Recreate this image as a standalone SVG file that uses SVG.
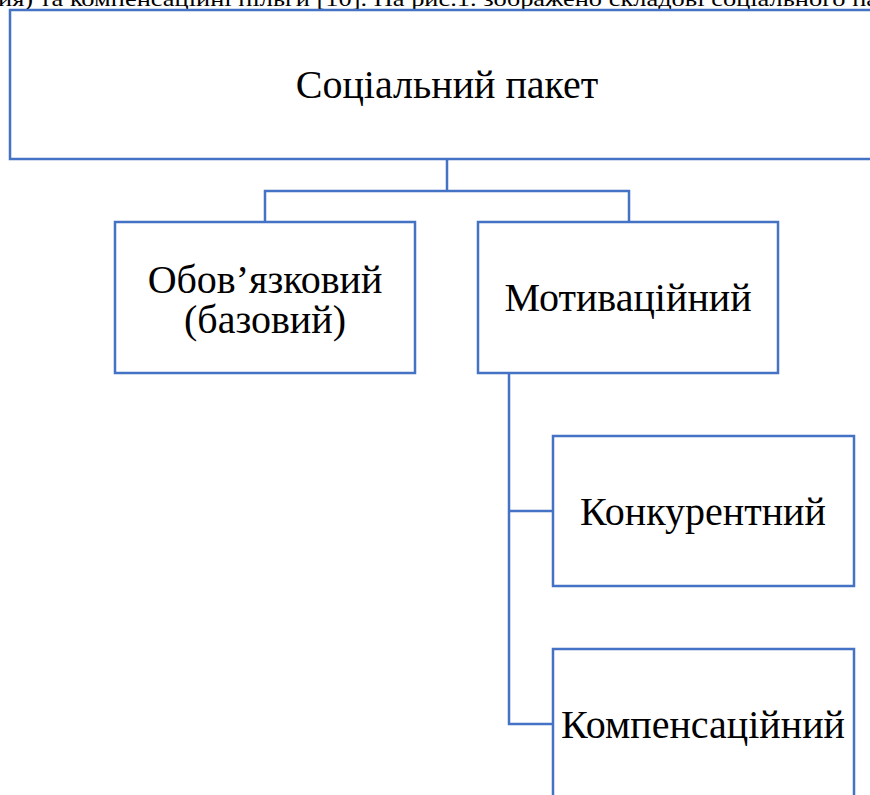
<svg xmlns="http://www.w3.org/2000/svg" width="870" height="795" viewBox="0 0 870 795">
<style>
.box{fill:#fff;stroke:#4472C4;stroke-width:2.5}
.conn{fill:none;stroke:#4472C4;stroke-width:2.5}
.lbl{font-family:"Liberation Serif","Times New Roman",serif;font-size:40px;fill:#000;text-anchor:middle}
.top{font-family:"Liberation Serif","Times New Roman",serif;font-size:21px;fill:#000}
</style>
<rect width="870" height="795" fill="#fff"/>
<text class="top" x="-2" y="6" textLength="880" lengthAdjust="spacingAndGlyphs">ия) та компенсаційні пільги [10]. На рис.1. зображено складові соціального па</text>
<g id="connectors">
<path class="conn" d="M447,159 V191 M265,222 V191 H629 V222"/>
<path class="conn" d="M509,373 V724 H553 M509,511 H553"/>
</g>
<g id="node-root">
<rect class="box" x="10" y="10" width="880" height="149"/>
<text class="lbl" x="447" y="98">Соціальний пакет</text>
</g>
<g id="node-mandatory">
<rect class="box" x="115" y="222" width="300" height="151"/>
<text class="lbl" x="265" y="293">Обов’язковий</text>
<text class="lbl" x="265" y="333">(базовий)</text>
</g>
<g id="node-motivational">
<rect class="box" x="478" y="222" width="300" height="151"/>
<text class="lbl" x="628" y="311">Мотиваційний</text>
</g>
<g id="node-competitive">
<rect class="box" x="553" y="436" width="301" height="150"/>
<text class="lbl" x="703" y="525">Конкурентний</text>
</g>
<g id="node-compensatory">
<rect class="box" x="553" y="649" width="301" height="160"/>
<text class="lbl" x="703" y="738">Компенсаційний</text>
</g>
</svg>
